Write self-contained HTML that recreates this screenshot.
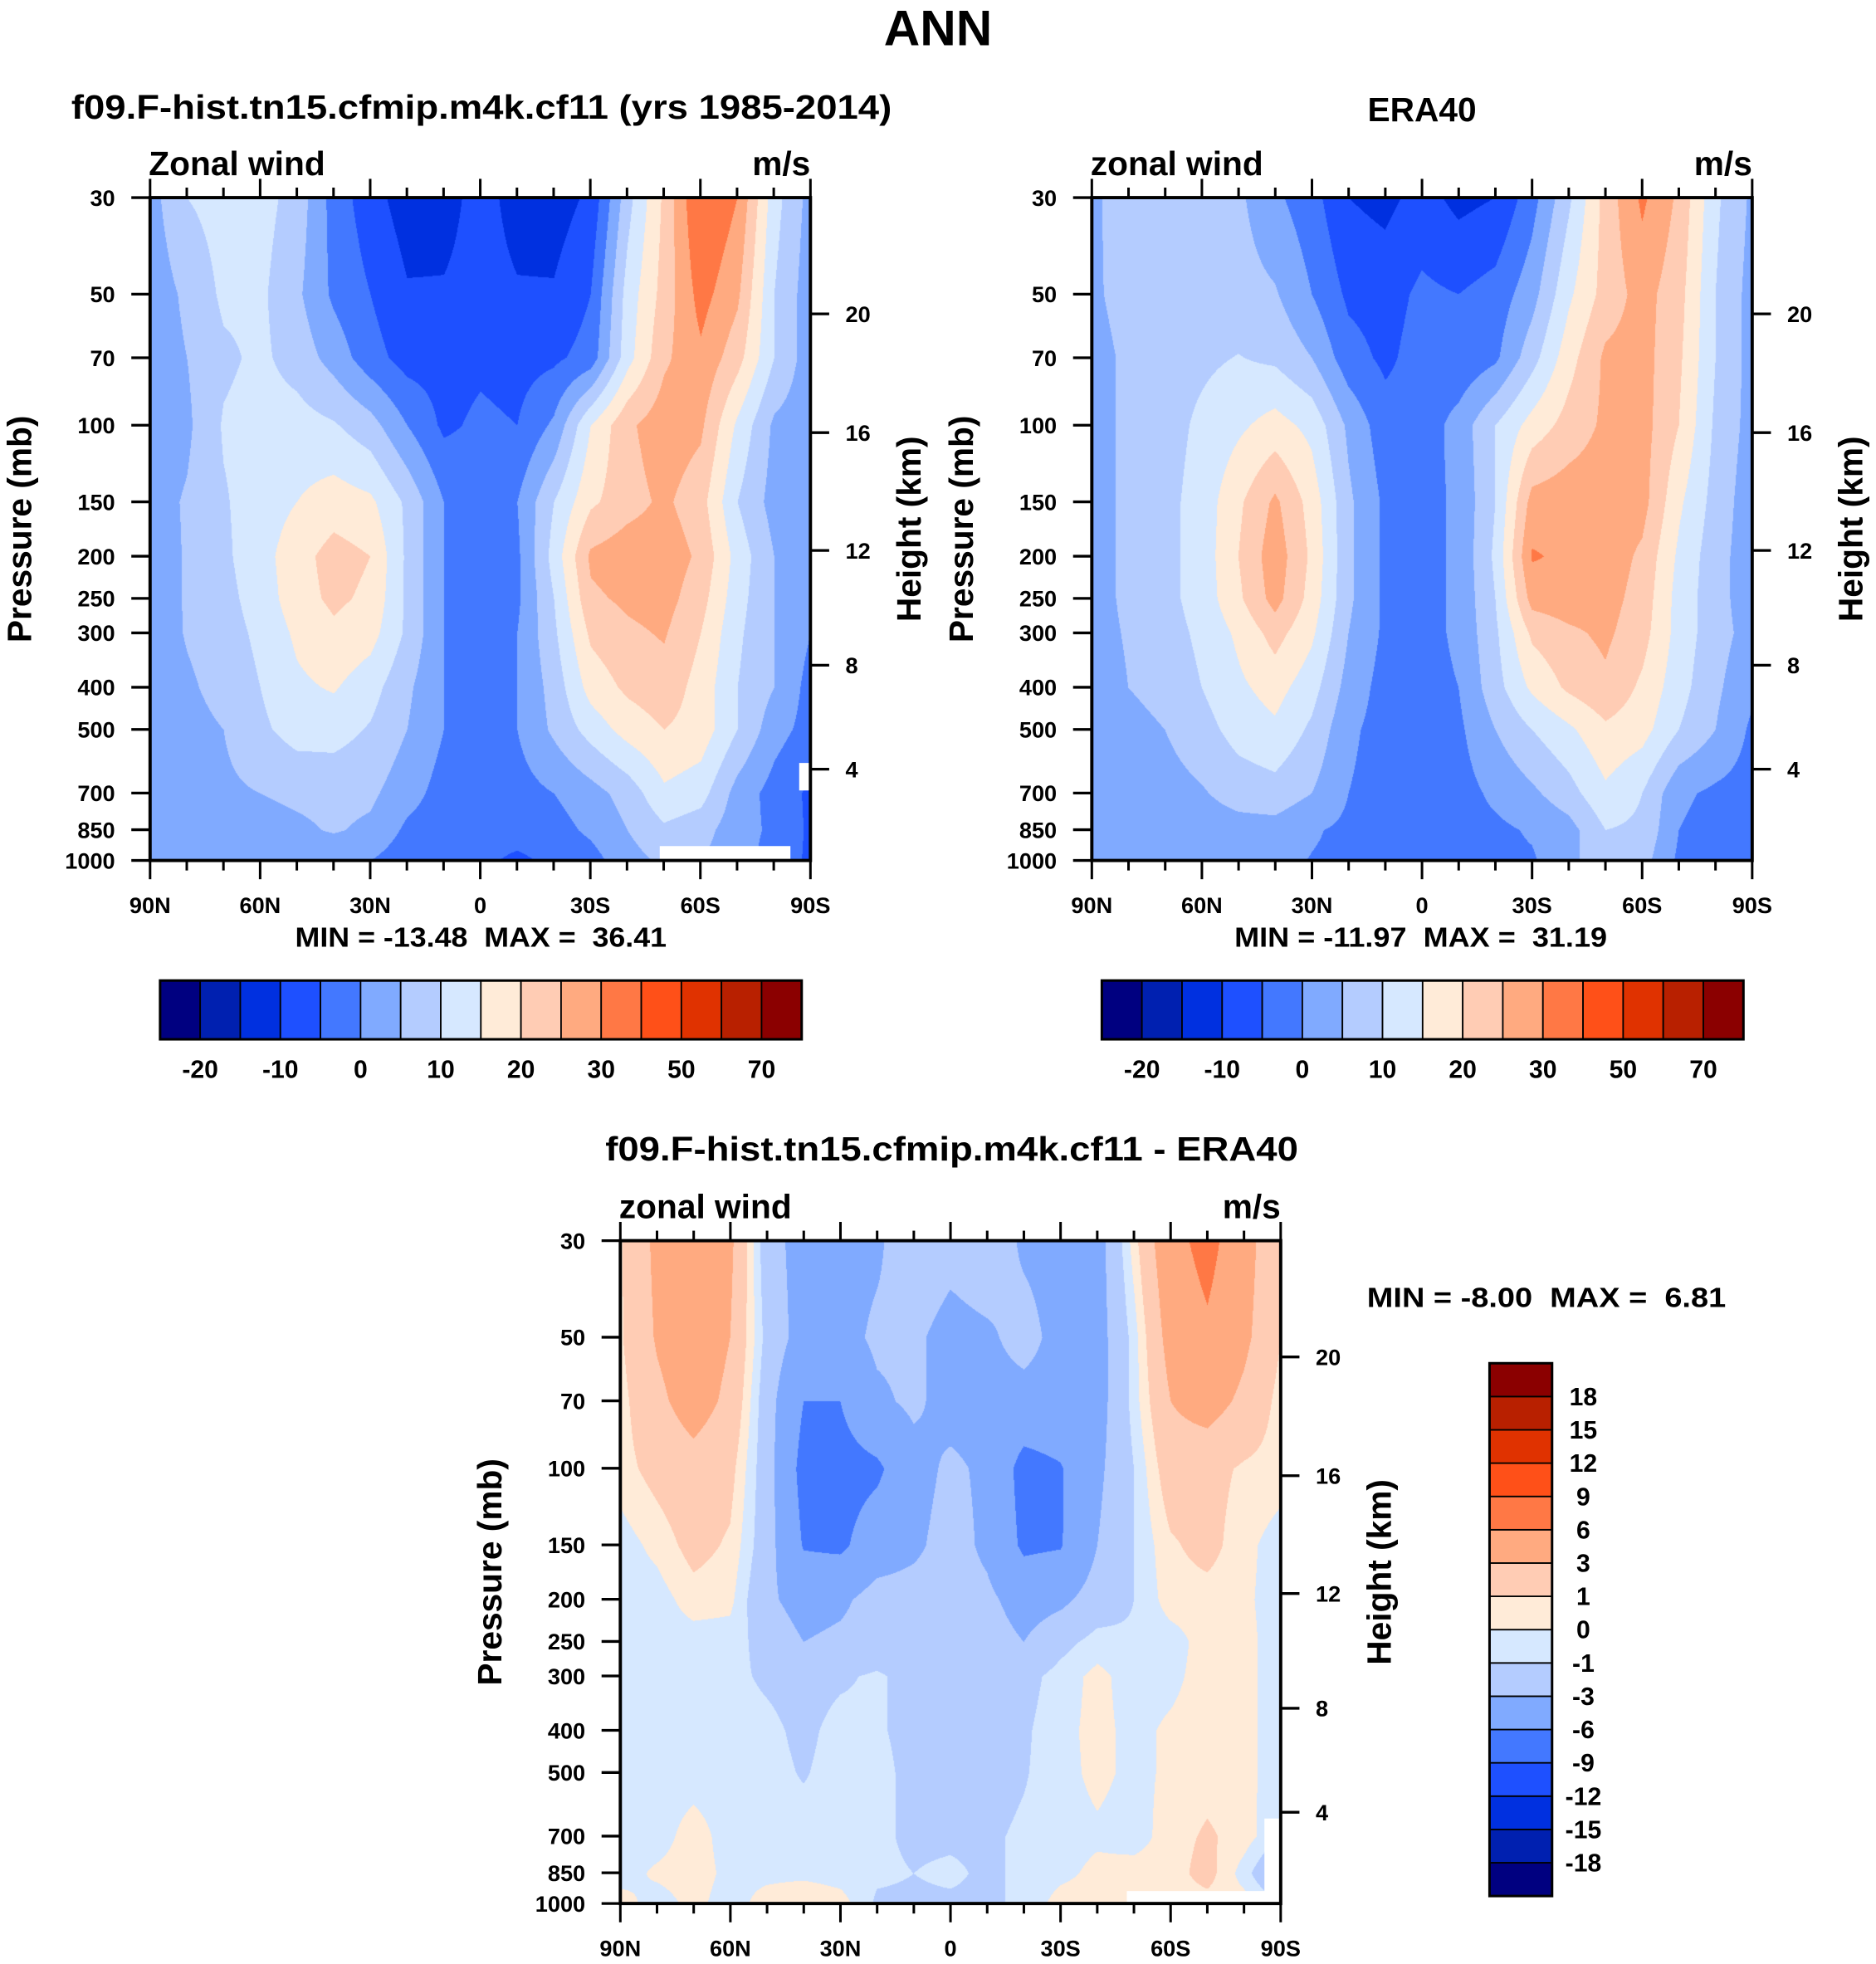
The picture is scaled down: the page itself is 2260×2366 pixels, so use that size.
<!DOCTYPE html>
<html><head><meta charset="utf-8">
<style>
html,body{margin:0;padding:0;background:#fff;}
#root{position:relative;width:2260px;height:2366px;overflow:hidden;background:#fff;}
canvas{position:absolute;}
#ov{position:absolute;left:0;top:0;}
text{font-family:"Liberation Sans",Arial,sans-serif;font-weight:bold;fill:#000;}
</style></head>
<body>
<div id="root">
<canvas id="c1"></canvas>
<canvas id="c2"></canvas>
<canvas id="c3"></canvas>
<svg id="ov" width="2260" height="2366" viewBox="0 0 1500 1570.35">
<text x="750" y="36" font-size="40" text-anchor="middle">ANN</text>
<text x="57" y="95" font-size="27" textLength="656" lengthAdjust="spacingAndGlyphs">f09.F-hist.tn15.cfmip.m4k.cf11 (yrs 1985-2014)</text>
<text x="1137" y="97" font-size="27" text-anchor="middle">ERA40</text>
<text x="484" y="928" font-size="27" textLength="554" lengthAdjust="spacingAndGlyphs">f09.F-hist.tn15.cfmip.m4k.cf11 - ERA40</text>
<g id="g"></g>
</svg>
</div>
<script>
const S = 2260/1500;
const PLEV = [30,50,70,100,150,200,250,300,400,500,700,850,1000];
const LATS = [90,80,70,60,50,40,30,20,10,0,-10,-20,-30,-40,-50,-60,-70,-80,-90];
const HKM = [4,8,12,16,20];
const HPRES = [617,356,194,104,55.5];
const XTICK_LATS = [90,60,30,0,-30,-60,-90];
const XTICK_LABELS = ["90N","60N","30N","0","30S","60S","90S"];

const MODEL = [
 [3,10,12,12,8,-2,-8,-12.5,-12,-8,-12,-12.5,-9,8,21,36,30,12,3],
 [2,6,11,11,6,-1,-5,-9.5,-9.5,-8,-9.5,-9.5,-5,12,22,32,26,10,2],
 [2,5,9,11,8,3,-3,-7,-7,-6,-7,-6,-3,13,24,29,22,10,2],
 [2,4,10.5,12,12,10.5,7,0,-6,-4,-5,1,15,24,28,26,14,4,2],
 [3,5.5,9.5,12.5,15,17.5,16,9,0,-2,0,10,19,23,26,22,10,3,2],
 [2,5.5,9,13,18,22,20,9,0,-3,-1,12,26,28,28,24,13,5,2],
 [2,5.5,8.5,12,18,21,19,9,0,-3,-1,10,24,26,27,22,12,5,2],
 [1,5.5,8,11,16,19,17,9,0,-2,0,9,21,24,25.5,20,11,5,0],
 [0,4,7,10,14,15.5,12,6,0,-2,0,7,17,21,23,18,10,5,-2],
 [0,3,5,9,12,12,9.5,5,0,-2,0,6,12,17,20,18,10,2,-2],
 [2,3,4,5,6,6.5,6,2,-2,-4,-2,0,3,7,14,12,3,-2,-6],
 [2,2.5,3,3,4,5.5,4,-1,-3,-3,-3,-2,1,5,9,7,2,-1,-6],
 [1,0.5,1,1,1,1,0,-3,-4,-4,-6,-4,-2,3,6,5,2,-2,-6]
];
const ERA = [
 [4,7.5,8,8,6,1,-3,-10,-11.5,-8,-11.5,-10,-2,9,22,31,24,11,4],
 [4,7,8,8,7,5.5,0,-6,-7,-4,-5,-3,3,14,22,27,22,10,3],
 [3,6,8,9,10.2,9,5,-3,-6,-3,-4,-1,8,18,26,27,21,10,3],
 [3,6,8,11,14,17,13.5,4,-3,-3,2,10,17,22,26,27,20,9,3],
 [3,6,8.5,12,19,26,18,6,-1,-2,1,10,27,28,28,27,16,8,2],
 [3,6,8.5,12,20,28,19,6,-1,-2,1,11,30.5,29,28,24,14,7,2],
 [3,6,8.5,12,19,27,18,6,-1,-2,1,10,27,28,27,23,13,7,2],
 [3,5.5,8,11,16,22,16,5,-1,-2,1,9,21,24,26,22,13,7,3],
 [2,5,7,10,14,17,12,3,-2,-2,0,8,16,21,24,19,12,6,1],
 [2,3,5,8,12,14,9,1,-2,-2,-1,5,10,14,19,17,10,5,-1],
 [2,2.5,3,4.5,7,8,5,0,-2,-2,-2,1,4,8,14,10,1,-1,-2],
 [2,2,2,2.5,3,3,0.5,-1,-2,-2,-1.5,-1,0.5,3,10,9,0,-2,-2],
 [1,1,1.5,1.5,1.5,1,-0.2,-1,-2,-2,-1.5,-1,-0.5,3,10,7,-1,-2,-2]
];
const DIFF = [
 [0.8,3.5,5,3.5,-2,-4,-4,-3.5,-1,-2,-1,-3.5,-4,-4,0.5,5,7,4,1],
 [0.8,3.2,4.5,3,-1.5,-4,-4,-2.5,-2.5,-4,-3.5,-2,-4,-4,-0.5,4,5.5,3.5,1],
 [0.5,2.5,4,2.5,-2,-6,-6,-3.5,-2.5,-4,-4,-4,-4,-4,-0.5,3,4,2.5,0.5],
 [0.5,1.5,2.2,1.5,-2,-7,-7,-6.5,-4,-2.5,-3.5,-7,-6.2,-3.5,-1,2,1.5,0.8,0.5],
 [-0.5,0.3,1.5,0.8,-2,-6.2,-6.5,-4.5,-3.5,-2,-3.5,-6.5,-6.2,-3,-1,0.8,1.5,0.3,-0.5],
 [-0.5,-0.5,0.5,0.3,-2.5,-4,-3.5,-2,-2,-2,-2.5,-4,-3.5,-2,-1,0.5,0.5,0.2,-0.5],
 [-0.5,-0.5,-0.5,-0.5,-1.5,-3,-2.5,-2,-2,-2,-2,-3,-1.5,-0.5,-0.8,-0.5,0.5,0.3,-0.5],
 [-0.5,-0.5,-0.5,-0.7,-1.2,-1.5,-1.2,-0.8,-1.5,-1.5,-1.5,-1.5,-0.5,0.3,-0.5,-0.3,0.5,0.3,-0.5],
 [-0.5,-1,-0.5,-0.5,-0.7,-1.3,-0.6,-0.8,-1.5,-1.5,-1.5,-1.2,-0.3,0.3,-0.3,0.2,0.5,0.3,-0.5],
 [-0.5,-0.5,-0.5,-0.5,-0.6,-1.1,-0.5,-0.5,-1.5,-1.5,-1.5,-1.1,-0.4,0.3,-0.3,0.2,0.5,0.3,-0.5],
 [-0.5,-0.5,0.5,-0.5,-0.5,-0.5,-0.5,-0.8,-1.2,-1.2,-1.2,-0.8,-0.5,-0.2,-0.5,0.5,1.2,0.5,-1],
 [-0.5,0.2,0.5,-0.3,-0.3,-0.3,-0.5,-0.8,-1,-0.8,-1.2,-0.8,-0.3,0.3,0.5,0.5,1.5,-0.5,-3],
 [0.5,-0.5,0.3,-0.5,0.5,1,0.5,-1.2,-1.2,-1.2,-1.2,-0.8,0.5,0.5,0.5,0.5,0.5,0.5,-1]
];
const LEVELS_MAIN = [-20,-15,-10,-5,0,5,10,15,20,25,30,40,50,60,70];
const LEVELS_DIFF = [-18,-15,-12,-9,-6,-3,-1,0,1,3,6,9,12,15,18];
const CB_MAIN_LABELS = [-20,-10,0,10,20,30,50,70];
const STATS_MODEL = ["-13.48","36.41"];
const STATS_ERA = ["-11.97","31.19"];
const STATS_DIFF = ["-8.00","6.81"];
const COLORS = ["#000080","#0020b0","#0030e0","#1e50ff","#4378ff","#80aaff","#b4ccff","#d6e8ff",
 "#ffebd8","#ffccb4","#ffaa80","#ff7845","#ff5018","#e03200","#b82000","#8b0000"];

const PW=528, PH=530;
const LP0=Math.log(30), LPR=Math.log(1000/30);
function yP(y0,p){return y0+PH*(Math.log(p)-LP0)/LPR;}
function xL(x0,lat){return x0+(90-lat)/180*PW;}
function rgb(h){return [parseInt(h.substr(1,2),16),parseInt(h.substr(3,2),16),parseInt(h.substr(5,2),16)];}
const CRGB=COLORS.map(rgb);
const LOGP=PLEV.map(Math.log);

function drawField(id,x0,y0,data,levels){
  const c=document.getElementById(id);
  const W=Math.round(PW*S), H=Math.round(PH*S);
  c.width=W;c.height=H;
  c.style.left=(x0*S)+'px';c.style.top=(y0*S)+'px';
  c.style.width=W+'px';c.style.height=H+'px';
  const ctx=c.getContext('2d');
  const img=ctx.createImageData(W,H);
  const nl=LATS.length-1;
  for(let j=0;j<H;j++){
    const lp=LP0+(j+0.5)/H*LPR;
    let k=0;while(k<PLEV.length-2 && lp>LOGP[k+1])k++;
    let t=(lp-LOGP[k])/(LOGP[k+1]-LOGP[k]);t=Math.max(0,Math.min(1,t));
    const r0=data[k],r1=data[k+1];
    for(let i=0;i<W;i++){
      const fx=(i+0.5)/W*nl;
      let a=Math.floor(fx);if(a>=nl)a=nl-1;const u=fx-a;
      const v=(1-t)*((1-u)*r0[a]+u*r0[a+1])+t*((1-u)*r1[a]+u*r1[a+1]);
      let ci=0;while(ci<levels.length && v>=levels[ci])ci++;
      const col=CRGB[ci];const o=(j*W+i)*4;
      img.data[o]=col[0];img.data[o+1]=col[1];img.data[o+2]=col[2];img.data[o+3]=255;
    }
  }
  ctx.putImageData(img,0,0);
}

const NS="http://www.w3.org/2000/svg";
const G=document.getElementById('g');
function el(tag,attrs,parent){const e=document.createElementNS(NS,tag);for(const k in attrs)e.setAttribute(k,attrs[k]);(parent||G).appendChild(e);return e;}
function txt(x,y,s,size,anchor,parent){const e=el('text',{x:x,y:y,'font-size':size,'text-anchor':anchor||'start'},parent);e.textContent=s;return e;}

function drawAxes(name,x0,y0,leftTitle,stats,statsPos,masks){
  const g=el('g',{});
  
  
  (masks||[]).forEach(mask=>{
    const m=el('polygon',{points:mask.map(p=>p.join(',')).join(' '),fill:'#fff'},g);
    
    
  });
  const lt=txt(x0-1,y0-18,leftTitle,27,'start',g);
  
  
  const ut=txt(x0+PW,y0-18,'m/s',27,'end',g);
  
  
  for(let lat=90;lat>=-90;lat-=10){
    const x=xL(x0,lat);const major=(lat%30===0);const L=major?15:8;
    el('line',{x1:x,y1:y0,x2:x,y2:y0-L,stroke:'#000','stroke-width':2},g);
    el('line',{x1:x,y1:y0+PH,x2:x,y2:y0+PH+L,stroke:'#000','stroke-width':2},g);
  }
  XTICK_LATS.forEach((lat,i)=>{
    const t=txt(xL(x0,lat),y0+PH+42,XTICK_LABELS[i],18,'middle',g);
    
    
  });
  PLEV.forEach(p=>{
    const y=yP(y0,p);
    el('line',{x1:x0,y1:y,x2:x0-15,y2:y,stroke:'#000','stroke-width':2.2},g);
    const t=txt(x0-28,y+6.5,String(p),18,'end',g);
    
    
  });
  HPRES.forEach((p,i)=>{
    const y=yP(y0,p);
    el('line',{x1:x0+PW,y1:y,x2:x0+PW+15,y2:y,stroke:'#000','stroke-width':2.2},g);
    const t=txt(x0+PW+28,y+6.5,String(HKM[i]),18,'start',g);
    
    
  });
  el('rect',{x:x0,y:y0,width:PW,height:PH,fill:'none',stroke:'#000','stroke-width':2.6},g);
  const yt=txt(0,0,'Pressure (mb)',27,'middle',g);
  yt.setAttribute('transform','translate('+(x0-95)+','+(y0+265)+') rotate(-90)');
  
  
  const ht=txt(0,0,'Height (km)',27,'middle',g);
  ht.setAttribute('transform','translate('+(x0+PW+88)+','+(y0+265)+') rotate(-90)');
  
  
  const st=txt(statsPos[0],statsPos[1],'MIN = '+stats[0]+'  MAX =  '+stats[1],22,'start',g);
  st.setAttribute('textLength',statsPos[2]);
  st.setAttribute('lengthAdjust','spacingAndGlyphs');
  st.style.whiteSpace='pre';
  
  
}

function hColorbar(name,x0,y0,w,h){
  const g=el('g',{});
  
  
  const bw=w/COLORS.length;
  COLORS.forEach((c,i)=>{
    const r=el('rect',{x:x0+i*bw,y:y0,width:bw,height:h,fill:c,stroke:'#000','stroke-width':1.2},g);
    
    
  });
  el('rect',{x:x0,y:y0,width:w,height:h,fill:'none',stroke:'#000','stroke-width':2},g);
  CB_MAIN_LABELS.forEach(v=>{
    const k=LEVELS_MAIN.indexOf(v);
    const t=txt(x0+(k+1)*bw,y0+78,String(v),20,'middle',g);
    
    
  });
}
function vColorbar(name,x0,y0,w,h){
  const g=el('g',{});
  
  
  const n=COLORS.length, bh=h/n;
  COLORS.forEach((c,i)=>{
    const r=el('rect',{x:x0,y:y0+h-(i+1)*bh,width:w,height:bh,fill:c,stroke:'#000','stroke-width':1.2},g);
    
    
  });
  el('rect',{x:x0,y:y0,width:w,height:h,fill:'none',stroke:'#000','stroke-width':2},g);
  LEVELS_DIFF.forEach((v,k)=>{
    const t=txt(x0+w+25,y0+h-(k+1)*bh+7,String(v),20,'middle',g);
    
    
  });
}

drawField('c1',120,158,MODEL,LEVELS_MAIN);
drawField('c2',873,158,ERA,LEVELS_MAIN);
drawField('c3',496,992,DIFF,LEVELS_DIFF);

drawAxes('model',120,158,'Zonal wind',STATS_MODEL,[236,757,297],
 [[[527.5,688],[527.5,676.5],[632,676.5],[632,688]],
  [[639,610],[647,610],[647,632],[639,632]]]);
drawAxes('era40',873,158,'zonal wind',STATS_ERA,[987,757,298],null);
drawAxes('difference',496,992,'zonal wind',STATS_DIFF,[1093,1045,287],
 [[[901,1522],[901,1512],[1011,1512],[1011,1454],[1024,1454],[1024,1522]]]);

hColorbar('model',128,784,513,47);
hColorbar('era40',881,784,513,47);
vColorbar('difference',1191,1090,50,426);
</script>
</body></html>
